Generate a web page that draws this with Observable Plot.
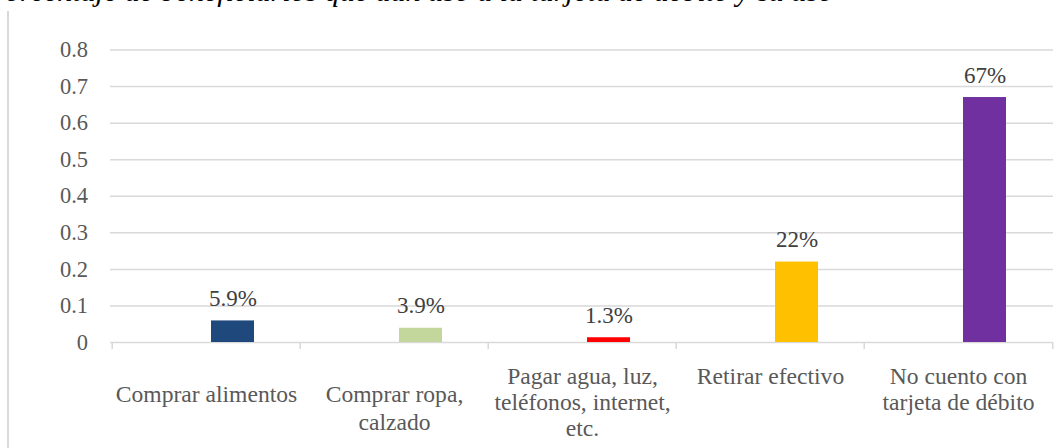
<!DOCTYPE html>
<html>
<head>
<meta charset="utf-8">
<script src="https://cdn.jsdelivr.net/npm/d3@7"></script>
<script src="https://cdn.jsdelivr.net/npm/@observablehq/plot@0.6"></script>
<style>
  html, body { margin: 0; padding: 0; background: #fff; overflow: hidden; }
  #wrap { position: relative; width: 1062px; height: 448px; overflow: hidden; }
  #title { position: absolute; right: 229px; top: -24px; white-space: nowrap;
           font: italic 30px/30px "Liberation Serif", "Times New Roman", serif; color: #000; }
  #frame { position: absolute; left: 7px; top: 11px; width: 2px; height: 437px; background: #d9d9d9; }
  #chart { position: absolute; left: 0; top: 0; }
  #chart svg, #chart svg text { font-family: "Liberation Serif", "Times New Roman", serif !important; }
</style>
</head>
<body>
<div id="wrap">
  <div id="chart"></div>
  <div id="frame"></div>
  <div id="title">Porcentaje de beneficiarios que dan uso a la tarjeta de débito y su uso</div>
</div>
<script>
const categories = ["Comprar alimentos", "Comprar ropa, calzado", "Pagar agua, luz, teléfonos, internet, etc.", "Retirar efectivo", "No cuento con tarjeta de débito"];
const categoryLabels = ["Comprar alimentos", "Comprar ropa,\ncalzado", "Pagar agua, luz,\nteléfonos, internet,\netc.", "Retirar efectivo", "No cuento con\ntarjeta de débito"];
const values = [0.059, 0.039, 0.013, 0.22, 0.67];
const valueLabels = ["5.9%", "3.9%", "1.3%", "22%", "67%"];
const yTicks = [0, 0.1, 0.2, 0.3, 0.4, 0.5, 0.6, 0.7, 0.8];
const yTickLabels = ["0", "0.1", "0.2", "0.3", "0.4", "0.5", "0.6", "0.7", "0.8"];
const palette = ["#1F497D", "#C3D69B", "#FF0000", "#FFC000", "#7030A0"];

const data = categories.map((c, i) => ({category: c, value: values[i], label: valueLabels[i], tick: categoryLabels[i], idx: i}));

const W = 1062, H = 448, ML = 110, MR = 9, MT = 49.5, MB = 106;
const bw = (W - ML - MR) / categories.length;
const font = '"Liberation Serif", "Times New Roman", serif';
const grid = "#d9d9d9";

const chart = Plot.plot({
  width: W, height: H,
  marginLeft: ML, marginRight: MR, marginTop: MT, marginBottom: MB,
  style: {fontFamily: font, background: "transparent", overflow: "visible"},
  x: {domain: categories, padding: 0, label: null},
  y: {domain: [0, 0.8], label: null},
  color: {domain: categories, range: palette},
  marks: [
    Plot.ruleY(yTicks, {stroke: grid, strokeWidth: 1.5}),
    Plot.axisX({tickSize: 7, dx: -bw / 2, tickFormat: () => "", label: null, stroke: grid, strokeWidth: 1.5, strokeOpacity: 1}),
    Plot.axisX({ticks: [categories[categories.length - 1]], tickSize: 7, dx: bw / 2, tickFormat: () => "", label: null, stroke: grid, strokeWidth: 1.5, strokeOpacity: 1}),
    Plot.axisY({ticks: yTicks, tickFormat: d => yTickLabels[yTicks.indexOf(d)], label: null, tickSize: 0, tickPadding: 22.5, fontSize: 22.5, fill: "#595959", fontFamily: font}),
    Plot.barY(data, {x: "category", y: "value", fill: "category", insetLeft: 99, insetRight: 46}),
    Plot.text(data, {x: "category", y: "value", text: "label", dx: 26.5, dy: -15, lineAnchor: "bottom", fontSize: 23, fill: "#404040", fontFamily: font}),
    Plot.text(data.filter(d => d.idx < 2), {x: "category", text: "tick", frameAnchor: "bottom", lineAnchor: "top", dy: 39.5, fontSize: 23.6, lineHeight: 1.2, fill: "#595959", fontFamily: font}),
    Plot.text(data.filter(d => d.idx >= 2), {x: "category", text: "tick", frameAnchor: "bottom", lineAnchor: "top", dy: 22.5, fontSize: 23.6, lineHeight: 1.11, fill: "#595959", fontFamily: font})
  ]
});
document.getElementById("chart").appendChild(chart);
</script>
</body>
</html>
